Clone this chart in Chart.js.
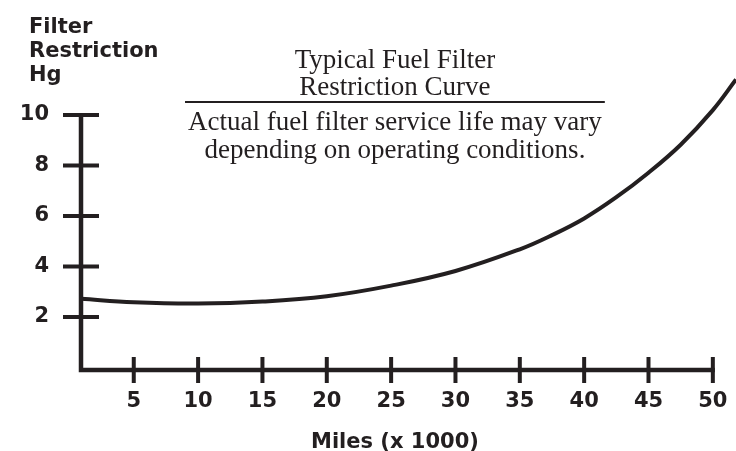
<!DOCTYPE html>
<html>
<head>
<meta charset="utf-8">
<script src="https://cdn.jsdelivr.net/npm/chart.js@4"></script>
<style>
    html, body { margin: 0; padding: 0; background: #fff; }
    #wrap { width: 736px; height: 451px; position: relative; }
</style>
</head>
<body>
<div id="wrap"><canvas id="filterChart"></canvas></div>
<script>
// Miles (x 1000) vs restriction (in. Hg)
const milesK = [0.9, 5, 10, 15, 20, 25, 30, 35, 37.5, 40, 42.5, 45, 47.5, 50, 51.8];
const restrictionHg = [2.72, 2.58, 2.53, 2.61, 2.82, 3.24, 3.82, 4.68, 5.24, 5.9, 6.74, 7.71, 8.82, 10.19, 11.4];

const xTickValues = [5, 10, 15, 20, 25, 30, 35, 40, 45, 50];
const yTickValues = [2, 4, 6, 8, 10];

const yTitleLines = ['Filter', 'Restriction', 'Hg'];
const xTitle = 'Miles (x 1000)';
const noteHeading = ['Typical Fuel Filter', 'Restriction Curve'];
const noteBody = ['Actual fuel filter service life may vary', 'depending on operating conditions.'];

const INK = '#231f20';
const SANS = 'bold 21px "DejaVu Sans", sans-serif';
const SERIF = '27px "Liberation Serif", "Times New Roman", serif';

// axis lines with crossing ticks, plus the free text
const drawnAxes = {
    id: 'drawnAxes',
    afterDatasetsDraw(chart) {
        const { ctx, scales: { x, y } } = chart;
        const left = x.left;
        const base = y.bottom;
        const xEnd = x.getPixelForValue(xTickValues[xTickValues.length - 1]);
        const yTop = y.getPixelForValue(yTickValues[yTickValues.length - 1]);

        ctx.save();
        ctx.strokeStyle = INK;
        ctx.lineCap = 'butt';

        ctx.lineWidth = 4.5;
        ctx.beginPath();
        ctx.moveTo(left, yTop - 2);
        ctx.lineTo(left, base);
        ctx.lineTo(xEnd + 2, base);
        ctx.stroke();

        ctx.lineWidth = 4;
        yTickValues.forEach(v => {
            const py = y.getPixelForValue(v);
            ctx.beginPath();
            ctx.moveTo(left - 18, py);
            ctx.lineTo(left + 18, py);
            ctx.stroke();
        });
        xTickValues.forEach(v => {
            const px = x.getPixelForValue(v);
            ctx.beginPath();
            ctx.moveTo(px, base - 13);
            ctx.lineTo(px, base + 13);
            ctx.stroke();
        });
        ctx.restore();
    },
    afterDraw(chart) {
        const { ctx, scales: { x } } = chart;
        const mid = (x.left + x.getPixelForValue(50)) / 2;

        ctx.save();
        ctx.fillStyle = INK;
        ctx.strokeStyle = INK;

        // y axis title, top left
        ctx.font = SANS;
        ctx.textAlign = 'left';
        ctx.textBaseline = 'alphabetic';
        yTitleLines.forEach((t, i) => ctx.fillText(t, 29, 33 + i * 24));

        // x axis title
        ctx.textAlign = 'center';
        ctx.fillText(xTitle, mid - 2, 448);

        // note in the plot
        ctx.font = SERIF;
        const cx = mid - 2;
        noteHeading.forEach((t, i) => ctx.fillText(t, cx, 68 + i * 27));
        noteBody.forEach((t, i) => ctx.fillText(t, cx, 130 + i * 28));

        const ruleW = ctx.measureText(noteBody[0]).width + 6;
        ctx.lineWidth = 2;
        ctx.beginPath();
        ctx.moveTo(cx - ruleW / 2, 102);
        ctx.lineTo(cx + ruleW / 2, 102);
        ctx.stroke();
        ctx.restore();
    },
};

new Chart(document.getElementById('filterChart'), {
    type: 'line',
    data: {
        datasets: [{
            data: milesK.map((m, i) => ({ x: m, y: restrictionHg[i] })),
            borderColor: INK,
            borderWidth: 4,
            pointRadius: 0,
            tension: 0.4,
            clip: false,
        }],
    },
    options: {
        responsive: true,
        maintainAspectRatio: false,
        animation: false,
        layout: { padding: { top: 77, left: 0, right: 0, bottom: 0 } },
        plugins: { legend: { display: false }, tooltip: { enabled: false } },
        scales: {
            x: {
                type: 'linear',
                min: 0.9,
                max: 51.8,
                grid: { display: false, drawTicks: false },
                border: { display: false },
                afterBuildTicks: s => { s.ticks = xTickValues.map(v => ({ value: v })); },
                afterFit: s => { s.height = 81; s.paddingLeft = 0; s.paddingRight = 0; },
                ticks: { color: INK, font: { family: 'DejaVu Sans', size: 21, weight: 'bold' }, padding: 19, maxRotation: 0, autoSkip: false },
            },
            y: {
                type: 'linear',
                min: -0.1,
                max: 11.5,
                grid: { display: false, drawTicks: false },
                border: { display: false },
                afterBuildTicks: s => { s.ticks = yTickValues.map(v => ({ value: v })); },
                afterFit: s => { s.width = 81; s.paddingTop = 0; s.paddingBottom = 0; },
                ticks: { color: INK, font: { family: 'DejaVu Sans', size: 21, weight: 'bold' }, padding: 32 },
            },
        },
    },
    plugins: [drawnAxes],
});
</script>
</body>
</html>
